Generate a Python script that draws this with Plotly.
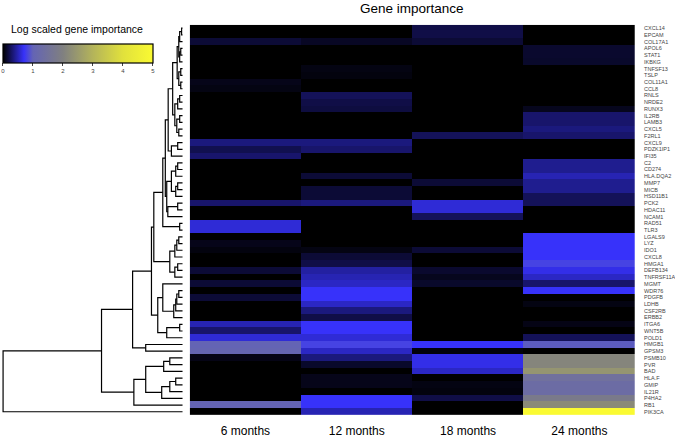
import plotly.graph_objects as go

genes = ["CXCL14", "EPCAM", "COL17A1", "APOL6", "STAT1", "IKBKG", "TNFSF13", "TSLP",
         "COL11A1", "CCL8", "RNLS", "NRDE2", "RUNX3", "IL2RB", "LAMB3", "CXCL5", "F2RL1",
         "CXCL9", "PDZK1IP1", "IFI35", "C2", "CD274", "HLA.DQA2", "MMP7", "MICB", "HSD11B1",
         "PCK2", "HDAC11", "NCAM1", "RAD51", "TLR3", "LGALS9", "LYZ", "IDO1", "CXCL8",
         "HMGA1", "DEFB134", "TNFRSF11A", "MGMT", "WDR76", "PDGFB", "LDHB", "CSF2RB",
         "ERBB2", "ITGA6", "WNT5B", "POLD1", "HMGB1", "GPSM3", "PSMB10", "PVR", "BAD",
         "HLA.F", "GMIP", "IL21R", "P4HA2", "RB1", "PIK3CA"]

months = ["6 months", "12 months", "18 months", "24 months"]

m6 = [0, 0, 0.15, 0, 0, 0, 0, 0, 0.07, 0.05, 0, 0, 0, 0, 0, 0, 0,
      0.35, 0.22, 0.3, 0, 0, 0, 0, 0, 0, 0.3, 0, 0, 0.6, 0.6, 0, 0.07, 0.04, 0,
      0, 0.15, 0, 0.15, 0, 0.15, 0, 0, 0, 0.5, 0.3, 0.6, 1.0, 1.05, 0.06, 0, 0,
      0, 0, 0, 0, 1.0, 0]
m12 = [0, 0, 0.1, 0, 0, 0, 0.05, 0.04, 0, 0, 0.25, 0.2, 0.18, 0, 0, 0, 0,
       0.35, 0.3, 0, 0, 0, 0.15, 0, 0.15, 0.15, 0.35, 0, 0, 0, 0, 0, 0, 0.05, 0.15,
       0.2, 0.45, 0.5, 0.55, 0.7, 0.7, 0.55, 0.35, 0.2, 0.7, 0.7, 0.6, 0.8, 0.55, 0.35, 0.12, 0,
       0.07, 0.07, 0, 0.7, 0.7, 0.5]
m18 = [0.2, 0.2, 0.15, 0, 0, 0, 0, 0, 0, 0, 0, 0, 0, 0, 0, 0, 0.25,
       0, 0, 0, 0, 0, 0, 0.15, 0, 0, 0.6, 0.6, 0.25, 0, 0, 0, 0, 0.15, 0,
       0, 0.13, 0.08, 0.12, 0, 0, 0, 0, 0, 0, 0, 0, 0.7, 0.03, 0.65, 0.65, 0.55,
       0, 0.05, 0.04, 0.2, 0, 0]
m24 = [0, 0, 0, 0.13, 0.13, 0.12, 0, 0, 0, 0, 0, 0, 0.08, 0.3, 0.3, 0.35, 0.3,
       0, 0, 0, 0.4, 0.4, 0.5, 0.4, 0.4, 0.25, 0.25, 0, 0, 0, 0, 0.7, 0.7, 0.7, 0.7,
       0.8, 0.65, 0.55, 0.3, 0.7, 0, 0.05, 0, 0, 0.06, 0, 0.25, 0.95, 0, 2.1, 2.1, 2.4,
       1.45, 1.3, 1.3, 1.8, 2.2, 5.0]

colorbar_ticks = [0, 1, 2, 3, 4, 5]

# hierarchical clustering of the genes: (left, right, merge distance)
clu_a = (("CXCL14", "EPCAM", 0.06), "COL17A1", 0.17)
clu_b = (("APOL6", "STAT1", 0.11), "IKBKG", 0.17)
clu_c = (("TNFSF13", "TSLP", 0.11), ("COL11A1", "CCL8", 0.11), 0.22)
clu_abc = ((clu_a, clu_b, 0.22), clu_c, 0.31)
clu_d = (("RNLS", "NRDE2", 0.17), "RUNX3", 0.28)
clu_e = (("IL2RB", "LAMB3", 0.17), ("CXCL5", "F2RL1", 0.22), 0.33)
clu_top = (clu_abc, (clu_d, clu_e, 0.44), 0.56)
clu_f = (("CXCL9", "PDZK1IP1", 0.28), "IFI35", 0.63)
clu_g = ((("C2", "CD274", 0.28), "HLA.DQA2", 0.39),
         (("MMP7", "MICB", 0.28), "HSD11B1", 0.39), 0.63)
clu_h = (("PCK2", "HDAC11", 0.28), "NCAM1", 0.83)
clu_n1 = (((clu_top, clu_f, 0.81), (clu_g, clu_h, 0.89), 0.97),
          ("RAD51", "TLR3", 0.17), 1.11)
clu_l = (((("LGALS9", "LYZ", 0.22), "IDO1", 0.33), "CXCL8", 0.44),
         (("HMGA1", "DEFB134", 0.28), "TNFRSF11A", 0.44), 0.72)
clu_m = (("MGMT", (((("WDR76", "PDGFB", 0.22), "LDHB", 0.33), "CSF2RB", 0.39), "ERBB2", 0.5), 1.11),
         (("ITGA6", "WNT5B", 0.17), "POLD1", 0.89), 1.39)
clu_b2 = (((clu_n1, clu_l, 1.61), clu_m, 1.74), ("HMGB1", "GPSM3", 2.06), 2.79)
clu_d2 = (((("PSMB10", "PVR", 0.72), "BAD", 1.06),
           ((("HLA.F", "GMIP", 0.39), "IL21R", 0.72), "P4HA2", 1.17), 2.06),
          "RB1", 2.72)
tree = ((clu_b2, clu_d2, 4.52), "PIK3CA", 10.0)

# ---- dendrogram segments from the tree ----
dx, dy = [], []


def walk(node):
    if isinstance(node, str):
        return genes.index(node), 0.0
    left, right, h = node
    yl, hl = walk(left)
    yr, hr = walk(right)
    dx.extend([hl, h, h, hr, None])
    dy.extend([yl, yl, yr, yr, None])
    return (yl + yr) / 2.0, h


walk(tree)

W, H = 675, 438
FONT = "Liberation Sans, Arial, sans-serif"

colorscale = [
    [0.0, "rgb(0,0,0)"],
    [0.14, "rgb(55,50,250)"],
    [0.2, "rgb(100,100,180)"],
    [0.4, "rgb(128,128,128)"],
    [0.6, "rgb(180,180,90)"],
    [0.8, "rgb(225,225,60)"],
    [1.0, "rgb(250,250,50)"],
]

z = [[m6[i], m12[i], m18[i], m24[i]] for i in range(len(genes))]

fig = go.Figure()
fig.add_trace(go.Heatmap(
    z=z, x=months, y=list(range(len(genes))),
    zmin=0, zmax=5, colorscale=colorscale,
    colorbar=dict(
        orientation="h", x=3 / W, xanchor="left", y=1 - 44 / H, yanchor="top",
        len=150, lenmode="pixels", thickness=19, thicknessmode="pixels",
        xpad=0, ypad=0, outlinewidth=1.2, outlinecolor="black",
        tickvals=colorbar_ticks, ticks="outside", ticklen=3, tickcolor="#444",
        tickfont=dict(size=6, color="#444", family=FONT),
    ),
    hoverinfo="skip",
))

fig.add_trace(go.Scatter(
    x=dx, y=dy, xaxis="x2", yaxis="y", mode="lines",
    line=dict(color="black", width=1.2), hoverinfo="skip", showlegend=False,
))

fig.update_layout(
    width=W, height=H,
    margin=dict(l=0, r=0, t=0, b=0),
    paper_bgcolor="white", plot_bgcolor="white",
    font=dict(family=FONT),
    showlegend=False,
    xaxis=dict(
        domain=[190 / W, 636 / W], type="category", side="bottom",
        showgrid=False, zeroline=False, showline=False, ticks="",
        tickfont=dict(size=12, color="black", family=FONT),
        ticklabelstandoff=7, anchor="y",
    ),
    yaxis=dict(
        domain=[1 - 418 / H, 1 - 25 / H], range=[len(genes) - 0.5, -0.5],
        tickvals=list(range(len(genes))), ticktext=genes, side="right",
        showgrid=False, zeroline=False, showline=False, ticks="",
        tickfont=dict(size=5.5, color="#444", family=FONT),
        ticklabelstandoff=8, anchor="x",
    ),
    xaxis2=dict(
        domain=[2 / W, 183 / W], range=[10.06, 0], anchor="y",
        visible=False, showgrid=False, zeroline=False,
    ),
    annotations=[
        dict(text="Gene importance", x=413 / W, y=1 - 9 / H, xref="paper", yref="paper",
             xanchor="center", yanchor="middle", showarrow=False,
             font=dict(size=13.5, color="black", family=FONT)),
        dict(text="Log scaled gene importance", x=9 / W, y=1 - 29 / H, xref="paper",
             yref="paper", xanchor="left", yanchor="middle", showarrow=False,
             font=dict(size=10.5, color="black", family=FONT)),
    ],
)

fig.write_html("out.html", config={"displayModeBar": False, "staticPlot": True},
               post_script="document.body.style.margin='0px';")
